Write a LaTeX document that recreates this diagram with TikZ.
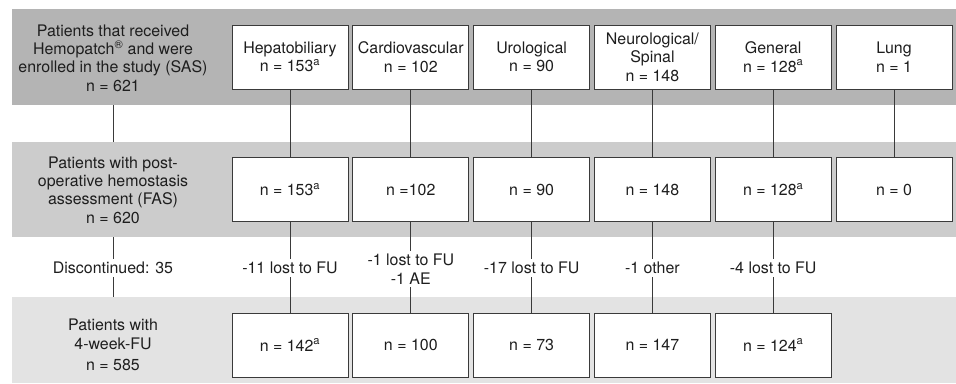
\documentclass[tikz,border=0pt]{standalone}
\usepackage{fontspec}
\setmainfont{TeX Gyre Heros}
\definecolor{bandA}{HTML}{B4B4B4}
\definecolor{bandB}{HTML}{CCCCCC}
\definecolor{bandC}{HTML}{E3E3E3}
\definecolor{ink}{HTML}{1E1E1E}
\definecolor{edge}{HTML}{3A3A3A}
\begin{document}
\begin{tikzpicture}[x=1bp,y=-1bp,
  every node/.style={text=ink,font=\fontsize{16}{18.5}\selectfont},
  catbox/.style={draw=edge,fill=white,line width=0.9bp,minimum width=116bp,minimum height=64bp,inner sep=0pt,align=center},
  lefttext/.style={align=center,inner sep=0pt},
  droplabel/.style={fill=white,align=center,inner xsep=1bp,inner ysep=3bp},
  conn/.style={draw=edge,line width=0.9bp}]
\useasboundingbox (0,0) rectangle (956,383);
% bands
\fill[bandA] (12,9) rectangle (956,105);
\fill[bandB] (12,142) rectangle (956,237);
\fill[bandC] (12,297) rectangle (956,383);
% left texts
\node[lefttext] (t1) at (113,58) {Patients that received\\Hemopatch\textsuperscript{\textregistered} and were\\enrolled in the study (SAS)\\n = 621};
\node[lefttext] (t2) at (113,190) {Patients with post-\\operative hemostasis\\assessment (FAS)\\n = 620};
\node[lefttext] (t3) at (113,345) {Patients with\\4-week-FU\\[3bp]n = 585};
\coordinate (c1b) at (113,105);
\coordinate (c2t) at (113,142);
\coordinate (c2b) at (113,237);
\coordinate (c3t) at (113,297);
\node[droplabel,fill=none] (d0) at (113,268) {Discontinued: 35};
\draw[conn] (c1b) -- (c2t);
\draw[conn] (c2b) -- (d0.north);
\draw[conn] (d0.south) -- (c3t);
% row 1
\node[catbox] (a1) at (290,57) {Hepatobiliary\\n = 153\textsuperscript{a}};
\node[catbox] (a2) at (410.8,57) {Cardiovascular\\n = 102};
\node[catbox] (a3) at (531.6,57) {Urological\\n = 90};
\node[catbox] (a4) at (652.4,57) {Neurological/\\Spinal\\n = 148};
\node[catbox] (a5) at (773.2,57) {General\\n = 128\textsuperscript{a}};
\node[catbox] (a6) at (894,57) {Lung\\n = 1};
% row 2
\node[catbox] (b1) at (290,189.5) {n = 153\textsuperscript{a}};
\node[catbox] (b2) at (410.8,189.5) {n =102};
\node[catbox] (b3) at (531.6,189.5) {n = 90};
\node[catbox] (b4) at (652.4,189.5) {n = 148};
\node[catbox] (b5) at (773.2,189.5) {n = 128\textsuperscript{a}};
\node[catbox] (b6) at (894,189.5) {n = 0};
% row 3
\node[catbox] (e1) at (290,345) {n = 142\textsuperscript{a}};
\node[catbox] (e2) at (410.8,345) {n = 100};
\node[catbox] (e3) at (531.6,345) {n = 73};
\node[catbox] (e4) at (652.4,345) {n = 147};
\node[catbox] (e5) at (773.2,345) {n = 124\textsuperscript{a}};
% drop labels
\node[droplabel] (l1) at (290,268) {-11 lost to FU};
\node[droplabel] (l2) at (410.8,269) {-1 lost to FU\\-1 AE};
\node[droplabel] (l3) at (531.6,268) {-17 lost to FU};
\node[droplabel] (l4) at (652.4,268) {-1 other};
\node[droplabel] (l5) at (773.2,268) {-4 lost to FU};
% connectors
\foreach \i in {1,...,6} { \draw[conn] (a\i) -- (b\i); }
\foreach \i in {1,...,5} { \draw[conn] (b\i) -- (l\i.north); \draw[conn] (l\i.south) -- (e\i); }
\end{tikzpicture}
\end{document}
